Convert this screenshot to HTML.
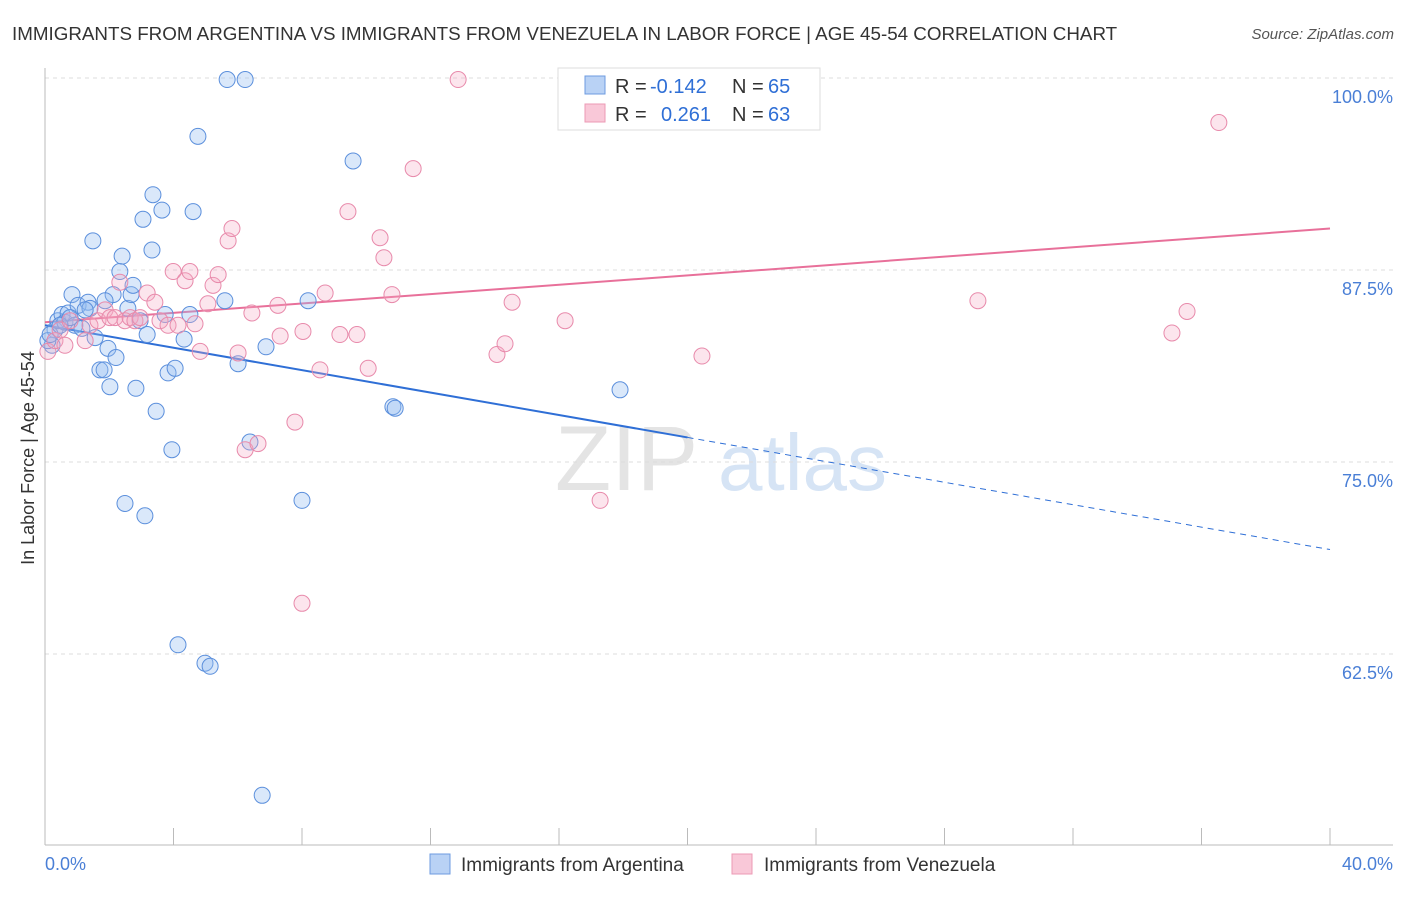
<!DOCTYPE html>
<html><head><meta charset="utf-8"><style>
body{margin:0;background:#fff;font-family:"Liberation Sans",sans-serif;}
svg text{font-family:"Liberation Sans",sans-serif;}
</style></head><body>
<svg id="chart" width="1406" height="892" xmlns="http://www.w3.org/2000/svg">
<text x="12" y="40" font-size="18.8" fill="#333">IMMIGRANTS FROM ARGENTINA VS IMMIGRANTS FROM VENEZUELA IN LABOR FORCE | AGE 45-54 CORRELATION CHART</text>
<text x="1394" y="39" font-size="15" fill="#555" text-anchor="end" font-style="italic">Source: ZipAtlas.com</text>
<text x="555" y="490" font-size="92" fill="#e4e4e4" font-family="Liberation Serif">ZIP</text>
<text x="718" y="490" font-size="80" fill="#d6e4f5">atlas</text>
<g id="grid"></g><g id="axes"></g><g id="trends"></g><g id="points"></g>
<text transform="translate(34,458) rotate(-90)" font-size="18" fill="#333" text-anchor="middle">In Labor Force | Age 45-54</text>
<text x="45" y="870" font-size="18" fill="#4a7fd6">0.0%</text>
<text x="1393" y="870" font-size="18" fill="#4a7fd6" text-anchor="end">40.0%</text>
<g>
<rect x="558" y="68" width="262" height="62" fill="#fff" stroke="#ddd"/>
<rect x="585" y="76" width="20" height="18" fill="#b9d2f5" stroke="#6d9be0"/>
<rect x="585" y="104" width="20" height="18" fill="#f9c8d8" stroke="#ec9ab5"/>
<text x="615" y="93" font-size="20" fill="#333">R =</text>
<text x="650" y="93" font-size="20" fill="#2f6fd6">-0.142</text>
<text x="732" y="93" font-size="20" fill="#333">N =</text>
<text x="768" y="93" font-size="20" fill="#2f6fd6">65</text>
<text x="615" y="121" font-size="20" fill="#333">R =</text>
<text x="661" y="121" font-size="20" fill="#2f6fd6">0.261</text>
<text x="732" y="121" font-size="20" fill="#333">N =</text>
<text x="768" y="121" font-size="20" fill="#2f6fd6">63</text>
</g>
<g>
<rect x="430" y="854" width="20" height="20" fill="#b9d2f5" stroke="#6d9be0"/>
<text x="461" y="871" font-size="19" fill="#333">Immigrants from Argentina</text>
<rect x="732" y="854" width="20" height="20" fill="#f9c8d8" stroke="#ec9ab5"/>
<text x="764" y="871" font-size="19" fill="#333">Immigrants from Venezuela</text>
</g>
</svg>
<script>
const argX=[0.22,0.31,0.40,0.53,0.62,0.72,0.84,0.93,1.03,1.15,1.34,1.40,1.56,1.49,1.71,1.84,1.96,2.02,2.12,2.21,2.33,2.40,2.49,2.58,2.68,2.74,2.83,2.96,3.05,3.11,3.18,3.33,3.36,3.46,3.64,3.74,3.83,3.95,4.05,4.14,4.33,4.51,4.61,4.76,4.98,5.14,5.60,5.67,6.01,6.23,6.38,6.76,6.88,8.00,8.19,9.59,10.83,10.90,17.90,0.09,0.16,0.47,0.78,1.25,1.87];
const argY=[82.6,83.6,84.2,84.6,84.1,84.7,85.9,83.9,85.2,83.7,85.4,85.0,83.1,89.4,81.0,81.0,82.4,79.9,85.9,81.8,87.4,88.4,72.3,85.0,85.9,86.5,79.8,84.2,90.8,71.5,83.3,88.8,92.4,78.3,91.4,84.6,80.8,75.8,81.1,63.1,83.0,84.6,91.3,96.2,61.9,61.7,85.5,99.9,81.4,99.9,76.3,53.3,82.5,72.5,85.5,94.6,78.6,78.5,79.7,82.9,83.3,83.9,84.4,84.9,85.5];
const venX=[0.09,0.31,0.47,0.62,0.78,1.25,1.40,1.65,1.87,2.02,2.18,2.33,2.49,2.65,2.80,2.96,3.18,3.42,3.58,3.83,3.99,4.14,4.36,4.51,4.67,4.83,5.07,5.23,5.39,5.70,5.82,6.01,6.23,6.44,6.63,7.25,7.32,7.78,8.00,8.03,8.56,8.72,9.18,9.43,9.71,10.06,10.43,10.55,10.80,11.46,12.86,14.07,14.32,14.54,16.19,17.28,20.45,21.32,21.95,29.04,35.08,35.55,36.54];
const venY=[82.2,82.9,83.6,82.6,84.2,82.9,83.9,84.2,84.9,84.4,84.4,86.7,84.2,84.4,84.2,84.4,86.0,85.4,84.2,83.9,87.4,83.9,86.8,87.4,84.0,82.2,85.3,86.5,87.2,89.4,90.2,82.1,75.8,84.7,76.2,85.2,83.2,77.6,65.8,83.5,81.0,86.0,83.3,91.3,83.3,81.1,89.6,88.3,85.9,94.1,99.9,82.0,82.7,85.4,84.2,72.5,81.9,99.9,99.7,85.5,83.4,84.8,97.1];
const argTrend=[83.9,69.3];
const venTrend=[84.1,90.2];
const yTicks=[100,87.5,75,62.5];
const yTickLabels=["100.0%","87.5%","75.0%","62.5%"];
const xTicks=[0,4,8,12,16,20,24,28,32,36,40];
const NS="http://www.w3.org/2000/svg";
const X=v=>45+v/40*1285, Y=v=>78+(100-v)*15.36;
function mk(t,a,p){const e=document.createElementNS(NS,t);for(const k in a)e.setAttribute(k,a[k]);p.appendChild(e);return e;}
const grid=document.getElementById('grid'),axes=document.getElementById('axes');
yTicks.forEach((v,i)=>{
 const l=mk('line',{x1:45,x2:1393,y1:Y(v),y2:Y(v),stroke:'#ddd','stroke-dasharray':'4,4'},grid);
 
 
 const t=mk('text',{x:1393,y:Y(v)+25,'font-size':18,fill:'#4a7fd6','text-anchor':'end'},grid);t.textContent=yTickLabels[i];
 
 
});
const xa=mk('line',{x1:45,x2:1393,y1:845,y2:845,stroke:'#bbb'},axes);


const ya=mk('line',{x1:45,x2:45,y1:68,y2:845,stroke:'#bbb'},axes);


xTicks.forEach(v=>{const t=mk('line',{x1:X(v),x2:X(v),y1:828,y2:845,stroke:'#bbb'},axes);
 
 });
const tr=document.getElementById('trends');
const xs=20.0;
const ys=argTrend[0]+(argTrend[1]-argTrend[0])*xs/40;
let l=mk('line',{x1:X(0),y1:Y(argTrend[0]),x2:X(xs),y2:Y(ys),stroke:'#2f6fd6','stroke-width':2},tr);


l=mk('line',{x1:X(xs),y1:Y(ys),x2:X(40),y2:Y(argTrend[1]),stroke:'#2f6fd6','stroke-width':1,'stroke-dasharray':'6,5'},tr);


l=mk('line',{x1:X(0),y1:Y(venTrend[0]),x2:X(40),y2:Y(venTrend[1]),stroke:'#e8709a','stroke-width':2},tr);


const pts=document.getElementById('points');
argX.forEach((x,i)=>{const c=mk('circle',{cx:X(x),cy:Y(argY[i]),r:8,fill:'rgba(150,190,242,0.35)',stroke:'#5b8fdc','stroke-width':1},pts);
 
 });
venX.forEach((x,i)=>{const c=mk('circle',{cx:X(x),cy:Y(venY[i]),r:8,fill:'rgba(246,170,196,0.3)',stroke:'#e88aab','stroke-width':1},pts);
 
 });
</script>
</body></html>
